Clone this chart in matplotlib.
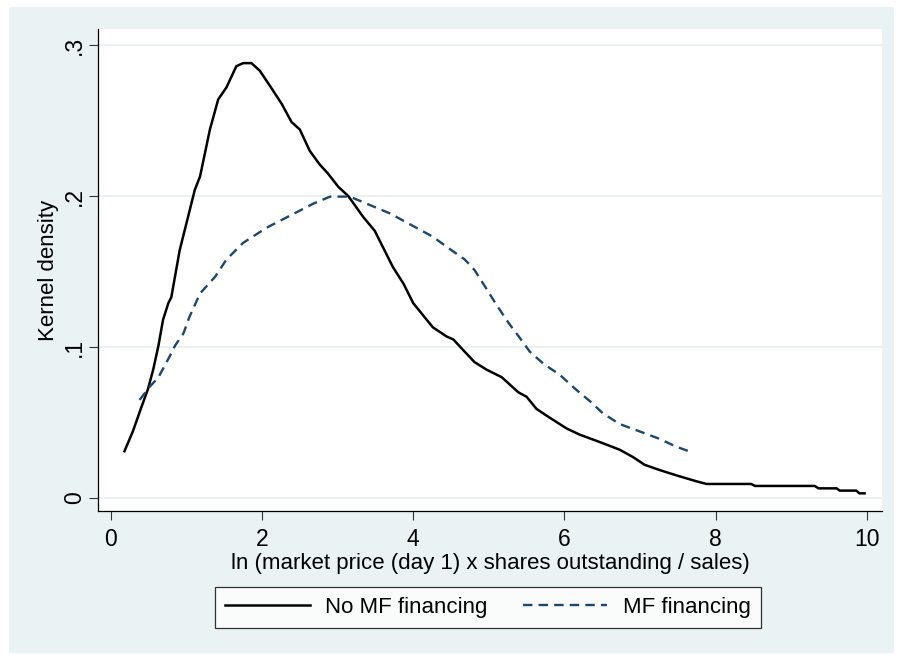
import matplotlib
matplotlib.use("Agg")
import matplotlib.pyplot as plt
from matplotlib.patches import Rectangle

plt.rcParams['font.family'] = ['Liberation Sans', 'DejaVu Sans']

# kernel density estimates, firms without / with MF financing
x_no_mf = [0.18, 0.29, 0.41, 0.49, 0.56, 0.63, 0.69, 0.76, 0.80, 0.91, 1.00, 1.11,
           1.18, 1.31, 1.42, 1.53, 1.66, 1.75, 1.86, 1.97, 2.13, 2.26, 2.39, 2.50,
           2.63, 2.76, 2.87, 3.01, 3.14, 3.34, 3.49, 3.60, 3.73, 3.87, 4.00, 4.13,
           4.26, 4.44, 4.53, 4.66, 4.81, 4.97, 5.17, 5.39, 5.50, 5.63, 5.78, 6.03,
           6.20, 6.47, 6.73, 6.91, 7.06, 7.26, 7.48, 7.75, 7.88, 8.47, 8.52, 9.31,
           9.36, 9.60, 9.64, 9.86, 9.90, 9.97]
y_no_mf = [0.031, 0.044, 0.061, 0.072, 0.085, 0.101, 0.118, 0.129, 0.133, 0.164, 0.182, 0.204,
           0.213, 0.244, 0.264, 0.272, 0.286, 0.288, 0.288, 0.283, 0.271, 0.261, 0.249, 0.244,
           0.230, 0.221, 0.215, 0.206, 0.200, 0.186, 0.177, 0.166, 0.153, 0.142, 0.129, 0.121,
           0.113, 0.107, 0.105, 0.098, 0.090, 0.085, 0.080, 0.070, 0.067, 0.059, 0.054, 0.046,
           0.042, 0.037, 0.032, 0.027, 0.022, 0.0185, 0.015, 0.011, 0.0093, 0.0093, 0.008, 0.008,
           0.0064, 0.0064, 0.0049, 0.0049, 0.0031, 0.0031]

x_mf = [0.38, 0.52, 0.63, 0.78, 0.85, 0.96, 1.04, 1.18, 1.38, 1.53, 1.75, 2.06, 2.37,
        2.68, 2.90, 3.16, 3.38, 3.69, 4.04, 4.26, 4.48, 4.68, 4.81, 4.95, 5.10, 5.26,
        5.41, 5.54, 5.72, 5.94, 6.16, 6.34, 6.51, 6.73, 7.00, 7.24, 7.48, 7.66]
y_mf = [0.065, 0.074, 0.080, 0.094, 0.101, 0.109, 0.120, 0.1355, 0.1466, 0.158, 0.169, 0.179, 0.187,
        0.195, 0.1996, 0.1996, 0.195, 0.1885, 0.179, 0.173, 0.165, 0.158, 0.151, 0.140, 0.128, 0.116,
        0.106, 0.097, 0.089, 0.0815, 0.0715, 0.064, 0.056, 0.049, 0.044, 0.0395, 0.034, 0.0307]

xticks = [0, 2, 4, 6, 8, 10]
yticks = [0, 0.1, 0.2, 0.3]
yticklabels = ['0', '.1', '.2', '.3']

bg = '#EAF2F3'
navy = '#1A476F'

fig = plt.figure(figsize=(8.97, 6.54), dpi=100)
fig.patch.set_facecolor('white')
fig.patches.append(Rectangle((9 / 897, 1 / 654), 885 / 897, 646 / 654,
                             transform=fig.transFigure, facecolor=bg,
                             edgecolor='none', zorder=-10))

ax = fig.add_axes([98 / 897, 143 / 654, 784 / 897, 482 / 654])
ax.set_facecolor('white')

ax.plot(x_no_mf, y_no_mf, color='black', lw=1.8, label='No MF financing')
ax.plot(x_mf, y_mf, color=navy, lw=1.7, dashes=(4, 2.6), label='MF financing')

ax.set_xlim(-0.17, 10.2)
ax.set_ylim(-0.0086, 0.3106)

for yv in yticks:
    ax.axhline(yv, color=bg, lw=1.5, zorder=0)

ax.set_xticks(xticks)
ax.set_yticks(yticks)
ax.set_yticklabels(yticklabels, rotation=90, va='center')
ax.tick_params(axis='both', direction='out', length=6.5, width=0.8,
               color='#333333', labelsize=16.5)
ax.tick_params(axis='x', pad=6)
ax.tick_params(axis='y', pad=2)

for s in ['top', 'right']:
    ax.spines[s].set_visible(False)
for s in ['left', 'bottom']:
    ax.spines[s].set_linewidth(0.9)
    ax.spines[s].set_color('black')

ax.set_xlabel('ln (market price (day 1) x shares outstanding / sales)',
              fontsize=16, labelpad=1.5)
ax.set_ylabel('Kernel density', fontsize=16, labelpad=3)

leg = fig.legend(loc='center', bbox_to_anchor=(488 / 897, 47 / 654), ncol=2,
                 fontsize=16, frameon=True, fancybox=False, handlelength=3.8,
                 handletextpad=0.7, columnspacing=1.6, borderpad=0.45)
leg.get_frame().set_edgecolor('black')
leg.get_frame().set_linewidth(0.9)
leg.get_frame().set_facecolor('white')

fig.savefig('out.png', dpi=100, facecolor=fig.get_facecolor())
